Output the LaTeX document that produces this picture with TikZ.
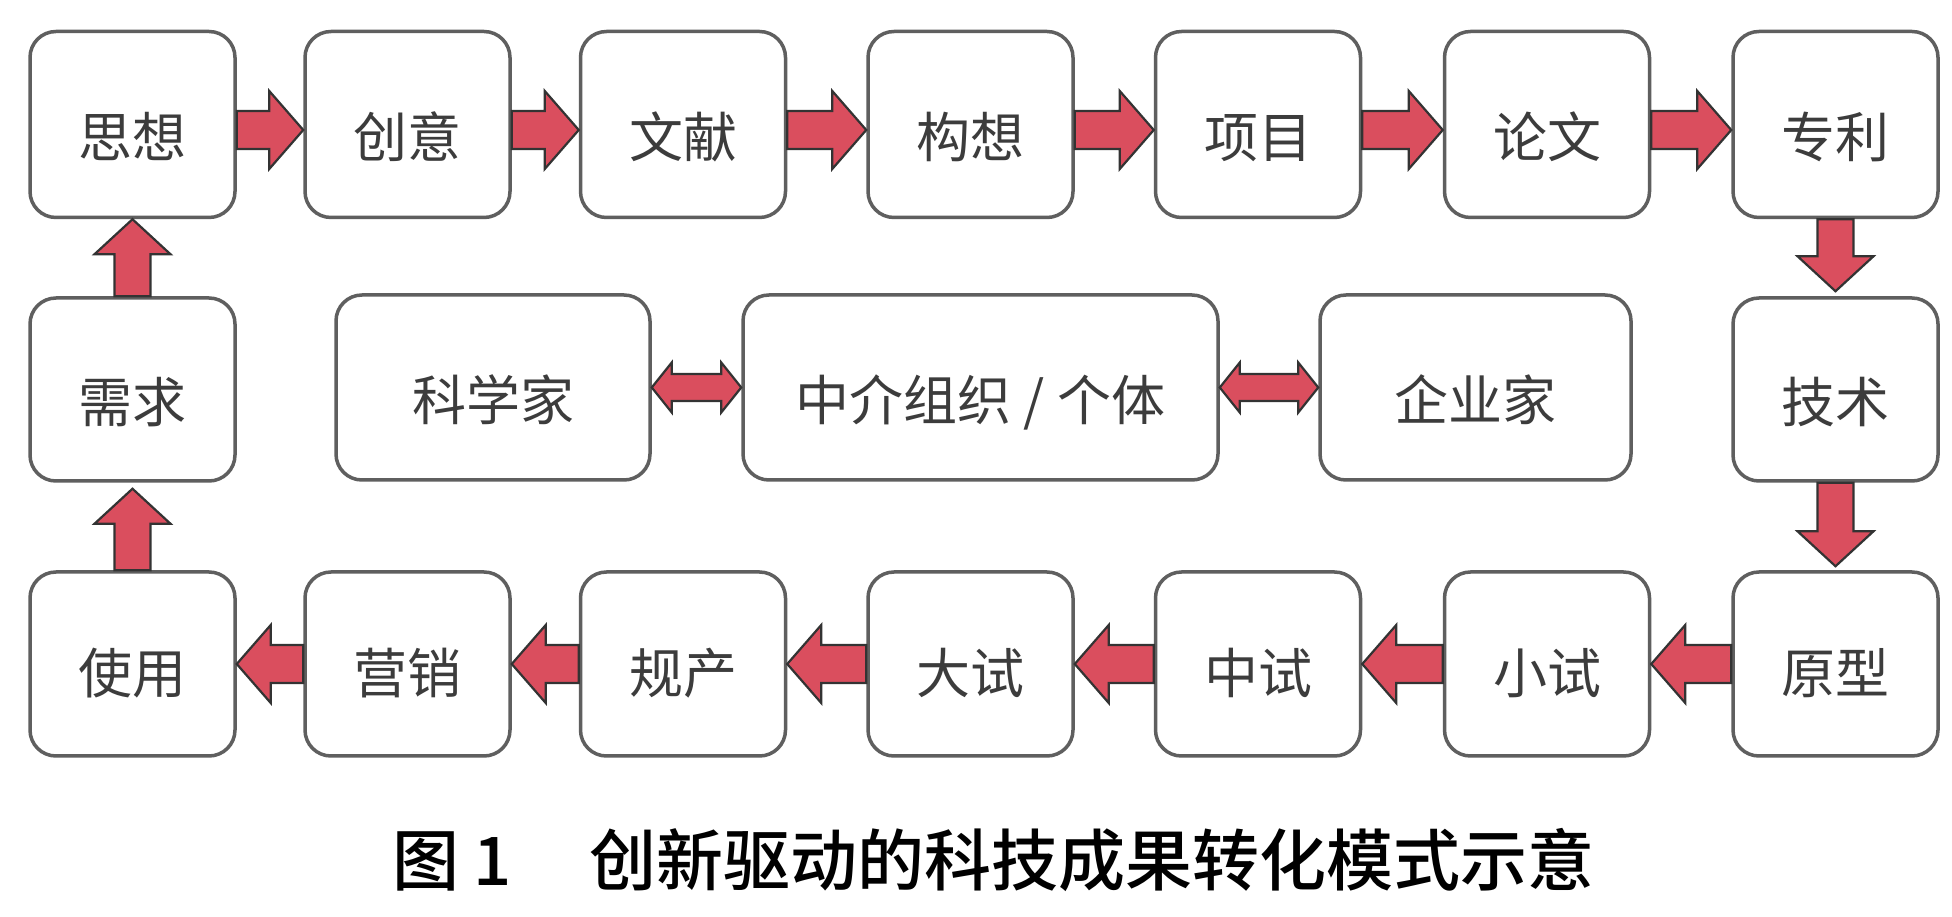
\documentclass[tikz,border=0pt]{standalone}
\usepackage{fontspec}
\setmainfont{Noto Sans CJK SC}
\newfontfamily\cjk{Noto Sans CJK SC}
\newfontfamily\capfont{Noto Sans CJK SC Medium}
\usetikzlibrary{calc}
\definecolor{arrred}{RGB}{218,78,94}
\definecolor{boxline}{RGB}{95,95,95}
\definecolor{txtgray}{RGB}{60,60,60}
% right-pointing block arrow: from, to, y offset
\newcommand\arrR[3]{%
\draw[blk] ($(#1.east)+(0,#3+19)$) -- ($(#2.west)+(-34,#3+19)$) -- ($(#2.west)+(-34,#3+39)$) -- ($(#2.west)+(0,#3)$) -- ($(#2.west)+(-34,#3-39)$) -- ($(#2.west)+(-34,#3-19)$) -- ($(#1.east)+(0,#3-19)$) -- cycle;}
% left-pointing block arrow: from (right box), to (left box)
\newcommand\arrL[2]{%
\draw[blk] ($(#1.west)+(0,19)$) -- ($(#2.east)+(34,19)$) -- ($(#2.east)+(34,39)$) -- (#2.east) -- ($(#2.east)+(34,-39)$) -- ($(#2.east)+(34,-19)$) -- ($(#1.west)+(0,-19)$) -- cycle;}
% down block arrow: from, to, gap at tip
\newcommand\arrD[3]{%
\draw[blk] ($(#1.south)+(-18,0)$) -- ($(#2.north)+(-18,35+#3)$) -- ($(#2.north)+(-38,35+#3)$) -- ($(#2.north)+(0,#3)$) -- ($(#2.north)+(38,35+#3)$) -- ($(#2.north)+(18,35+#3)$) -- ($(#1.south)+(18,0)$) -- cycle;}
% up block arrow: from, to, gap at tip
\newcommand\arrU[3]{%
\draw[blk] ($(#1.north)+(-18,0)$) -- ($(#2.south)+(-18,-35-#3)$) -- ($(#2.south)+(-38,-35-#3)$) -- ($(#2.south)+(0,-#3)$) -- ($(#2.south)+(38,-35-#3)$) -- ($(#2.south)+(18,-35-#3)$) -- ($(#1.north)+(18,0)$) -- cycle;}
% double-headed block arrow
\newcommand\arrLR[2]{%
\draw[blk] (#1.east) -- ($(#1.east)+(20,25)$) -- ($(#1.east)+(20,13.5)$) -- ($(#2.west)+(-20,13.5)$) -- ($(#2.west)+(-20,25)$) -- (#2.west) -- ($(#2.west)+(-20,-25)$) -- ($(#2.west)+(-20,-13.5)$) -- ($(#1.east)+(20,-13.5)$) -- ($(#1.east)+(20,-25)$) -- cycle;}
\begin{document}
\begin{tikzpicture}[x=1pt,y=1pt,
  box/.style={draw=boxline, line width=3.5pt, rounded corners=26pt, fill=white,
    inner sep=0pt, font=\cjk\fontsize{54}{60}\selectfont, text=txtgray,
    text height=66pt, text depth=0pt},
  sbox/.style={box, minimum width=205pt, minimum height=186pt},
  rbox/.style={box, minimum width=205pt, minimum height=184pt, text height=60pt},
  blk/.style={fill=arrred, draw=black!80, line width=2.2pt, line join=miter}]
\useasboundingbox (0,0) rectangle (1952,916);
\fill[white] (0,0) rectangle (1952,916);

% top row
\node[sbox] (sixiang)  at (132.5,791.5) {思想};
\node[sbox] (chuangyi) at (407.5,791.5) {创意};
\node[sbox] (wenxian)  at (683,791.5)   {文献};
\node[sbox] (gouxiang) at (970.5,791.5) {构想};
\node[sbox] (xiangmu)  at (1258,791.5)  {项目};
\node[sbox] (lunwen)   at (1547,791.5)  {论文};
\node[sbox] (zhuanli)  at (1835.5,791.5){专利};

% middle row
\node[box, minimum width=205pt, minimum height=183pt] (xuqiu) at (132.5,526.5) {需求};
\node[box, minimum width=205pt, minimum height=183pt] (jishu) at (1835.5,526.5) {技术};
\node[box, minimum width=314pt, minimum height=185pt] (kexuejia) at (493,528.5) {科学家};
\node[box, minimum width=475pt, minimum height=185pt] (zhongjie) at (980.5,528.5) {中介组织 / 个体};
\node[box, minimum width=311pt, minimum height=185pt] (qiyejia) at (1475.5,528.5) {企业家};

% bottom row
\node[rbox] (shiyong)  at (132.5,252) {使用};
\node[rbox] (yingxiao) at (407.5,252) {营销};
\node[rbox] (guichan)  at (683,252)   {规产};
\node[rbox] (dashi)    at (970.5,252) {大试};
\node[rbox] (zhongshi) at (1258,252)  {中试};
\node[rbox] (xiaoshi)  at (1547,252)  {小试};
\node[rbox] (yuanxing) at (1835.5,252){原型};

% arrows top row
\arrR{sixiang}{chuangyi}{-5.5}
\arrR{chuangyi}{wenxian}{-5.5}
\arrR{wenxian}{gouxiang}{-5.5}
\arrR{gouxiang}{xiangmu}{-5.5}
\arrR{xiangmu}{lunwen}{-5.5}
\arrR{lunwen}{zhuanli}{-5.5}
% right column
\arrD{zhuanli}{jishu}{5}
\arrD{jishu}{yuanxing}{4}
% bottom row
\arrL{yuanxing}{xiaoshi}
\arrL{xiaoshi}{zhongshi}
\arrL{zhongshi}{dashi}
\arrL{dashi}{guichan}
\arrL{guichan}{yingxiao}
\arrL{yingxiao}{shiyong}
% left column
\arrU{shiyong}{xuqiu}{6}
\arrU{xuqiu}{sixiang}{0}
% middle double arrows
\arrLR{kexuejia}{zhongjie}
\arrLR{zhongjie}{qiyejia}

% caption
\node[anchor=base west, inner sep=0pt, font=\capfont\fontsize{67}{70}\selectfont, text=black] (caption) at (392,31)
  {图\hspace{14pt}1\hspace{78pt}创新驱动的科技成果转化模式示意};
\end{tikzpicture}
\end{document}
